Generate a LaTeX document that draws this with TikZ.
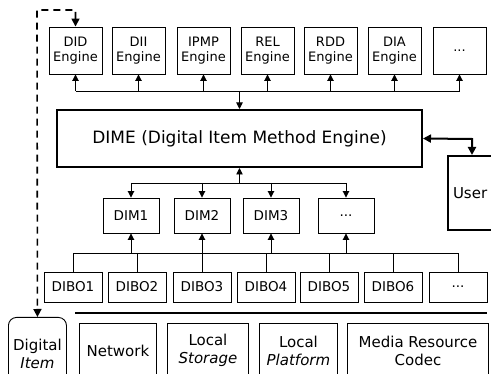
\documentclass[tikz,border=0pt]{standalone}
\usepackage{fontspec}
\setmainfont{DejaVu Sans}
\usetikzlibrary{arrows.meta}
\begin{document}
\begin{tikzpicture}[x=1pt,y=-1pt,
  box/.style={draw, line width=0.9pt, inner sep=0pt, align=center},
  eng/.style={box, minimum width=53pt, minimum height=47pt, font=\fontsize{13}{15.5}\selectfont},
  dimbox/.style={box, minimum width=56pt, minimum height=35pt, font=\fontsize{13.5}{16}\selectfont},
  dibo/.style={box, minimum width=58pt, minimum height=30pt, font=\fontsize{13.5}{16}\selectfont},
  res/.style={box, minimum height=54pt, anchor=north west, font=\fontsize{15}{18}\selectfont},
  conn/.style={line width=0.9pt},
  arr/.style={conn, -{Triangle[length=6.5pt,width=6.5pt]}},
  ]
\useasboundingbox (0,0) rectangle (491,374);
\clip (0,0) rectangle (491,374);
% engines
\node[eng] (e1) at (75.5,50.5) {DID\\Engine};
\node[eng] (e2) at (138.5,50.5) {DII\\Engine};
\node[eng] (e3) at (203.5,50.5) {IPMP\\Engine};
\node[eng] (e4) at (267.5,50.5) {REL\\Engine};
\node[eng] (e5) at (330.5,50.5) {RDD\\Engine};
\node[eng] (e6) at (394.5,50.5) {DIA\\Engine};
\node[eng] (e7) at (459.5,50.5) {...};
% DIME
\node[box, line width=2pt, minimum width=365pt, minimum height=57pt, font=\fontsize{17}{20}\selectfont] (dime) at (239.5,138.5) {DIME (Digital Item Method Engine)};
% User
\node[box, line width=2pt, anchor=north west, minimum width=85pt, minimum height=74pt, text width=75pt, inner sep=5pt, align=left, font=\fontsize{15}{18}\selectfont] (user) at (447,155) {User};
% DIMs
\node[dimbox] (d1) at (131,215.5) {DIM1};
\node[dimbox] (d2) at (202,215.5) {DIM2};
\node[dimbox] (d3) at (271,215.5) {DIM3};
\node[dimbox] (d4) at (346,215.5) {...};
% DIBOs
\node[dibo] (b1) at (73,287) {DIBO1};
\node[dibo] (b2) at (137,287) {DIBO2};
\node[dibo] (b3) at (202,287) {DIBO3};
\node[dibo] (b4) at (266,287) {DIBO4};
\node[dibo] (b5) at (329,287) {DIBO5};
\node[dibo] (b6) at (393,287) {DIBO6};
\node[dibo] (b7) at (458,287) {...};
% bottom
\node[box, rounded corners=8pt, anchor=north west, minimum width=58pt, minimum height=76pt, font=\fontsize{15}{18}\selectfont] (di) at (8,317) {\raisebox{10.5pt}{\begin{tabular}{@{}c@{}}Digital\\\textit{Item}\end{tabular}}};
\node[res, minimum width=77pt] (net) at (79,323) {Network};
\node[res, minimum width=81pt] (ls) at (167,323) {Local\\\textit{Storage}};
\node[res, minimum width=78pt] (lp) at (259,323) {Local\\\textit{Platform}};
\node[res, minimum width=141pt] (mr) at (347,323) {Media Resource\\Codec};
% coordinates
\coordinate (bus1) at (0,91);
\coordinate (bus2) at (0,183);
\coordinate (bus3) at (0,253);
\coordinate (dtop) at (37,10);
\coordinate (ucorner) at (472,139);
\coordinate (sepL) at (75,313);
\coordinate (sepR) at (487,313);
% engine bus
\draw[conn] (e1.south |- bus1) -- (e7.south |- bus1);
\foreach \n in {e1,e2,e3,e4,e5,e6,e7} \draw[arr] (\n.south |- bus1) -- (\n.south);
\draw[arr] (dime.north |- bus1) -- (dime.north);
% DIM bus
\draw[conn] (d1.north |- bus2) -- (d4.north |- bus2);
\foreach \n in {d1,d2,d3,d4} \draw[arr] (\n.north |- bus2) -- (\n.north);
\draw[arr] (dime.south |- bus2) -- (dime.south);
% DIBO bus
\draw[conn] (b1.north |- bus3) -- (b7.north |- bus3);
\foreach \n in {b1,b2,b3,b4,b5,b6,b7} \draw[conn] (\n.north) -- (\n.north |- bus3);
\foreach \n in {d1,d2,d3,d4} \draw[arr] (\n.south |- bus3) -- (\n.south);
% separator
\draw[line width=2.2pt] (sepL) -- (sepR);
% dashed
\draw[line width=1.6pt, dash pattern=on 7pt off 5pt, {Triangle[length=8pt,width=8pt]}-{Triangle[length=8pt,width=8pt]}] (e1.north) -- (e1.north |- dtop) -- (dtop) -- (di.north);
% user arrow
\draw[line width=2pt, {Triangle[length=8pt,width=8pt]}-{Triangle[length=8pt,width=8pt]}] (dime.east) -- (ucorner) -- (ucorner |- user.north);
\end{tikzpicture}
\end{document}
